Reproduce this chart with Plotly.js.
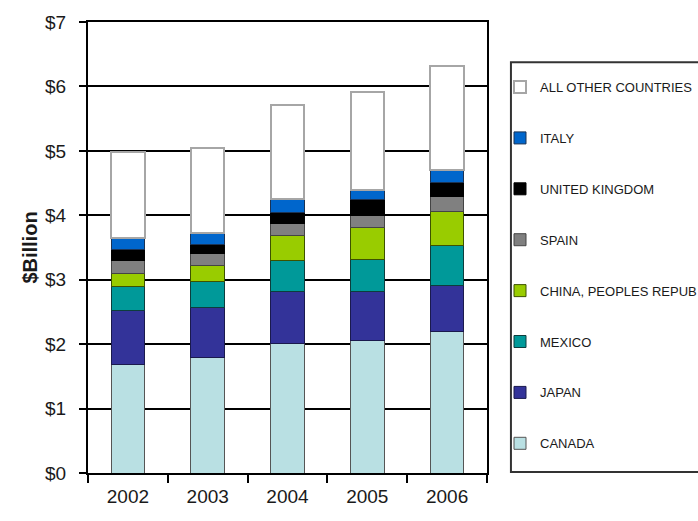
<!DOCTYPE html>
<html>
<head>
<meta charset="utf-8">
<script src="https://cdn.plot.ly/plotly-3.0.1.min.js"></script>
<style>html,body{margin:0;padding:0;background:#fff;}#chart{width:698px;height:521px;}</style>
</head>
<body>
<div id="chart"></div>
<script>
const years = ['2002', '2003', '2004', '2005', '2006'];
const seriesNames = ['CANADA', 'JAPAN', 'MEXICO', 'CHINA, PEOPLES REPUB', 'SPAIN', 'UNITED KINGDOM', 'ITALY', 'ALL OTHER COUNTRIES'];
const canada = [1.68, 1.80, 2.01, 2.06, 2.19];
const japan  = [0.84, 0.77, 0.80, 0.75, 0.72];
const mexico = [0.37, 0.40, 0.49, 0.51, 0.62];
const china  = [0.21, 0.25, 0.38, 0.49, 0.53];
const spain  = [0.20, 0.18, 0.20, 0.18, 0.23];
const uk     = [0.17, 0.15, 0.17, 0.25, 0.22];
const italy  = [0.18, 0.17, 0.21, 0.15, 0.19];
const other  = [1.33, 1.32, 1.45, 1.53, 1.61];
const yTicks = [0, 1, 2, 3, 4, 5, 6, 7];

const seriesValues = [canada, japan, mexico, china, spain, uk, italy, other];
const colors = ['#B9E0E3', '#333399', '#009999', '#99CC00', '#808080', '#000000', '#0066CC', '#FFFFFF'];
const lineColors = ['#555555', '#1a1a4d', '#0d3d3d', '#3d5200', '#444444', '#000000', '#1a3355', '#A6A6A6'];
const lineWidths = [1, 1, 1, 1, 1, 1, 1, 2];

const traces = seriesNames.map((name, i) => ({
  type: 'bar',
  name: name,
  x: years,
  y: seriesValues[i],
  legendgroup: 'g' + i,
  legendrank: 1000 - i * 10,
  marker: {color: colors[i], line: {color: lineColors[i], width: lineWidths[i]}},
  hoverinfo: 'x+y+name'
}));

const layout = {
  width: 698,
  height: 521,
  paper_bgcolor: '#ffffff',
  plot_bgcolor: '#ffffff',
  barmode: 'stack',
  bargap: 0.58,
  margin: {l: 88, r: 211, t: 22, b: 48, autoexpand: false},
  font: {family: 'Liberation Sans, Arial, sans-serif', color: '#1a1a1a'},
  xaxis: {
    type: 'category',
    categoryorder: 'array',
    categoryarray: years,
    tickson: 'boundaries',
    ticks: 'outside',
    ticklen: 8,
    tickwidth: 2,
    tickcolor: '#000',
    showline: true,
    mirror: true,
    linecolor: '#000',
    linewidth: 2,
    showgrid: false,
    tickfont: {size: 19, color: '#1a1a1a'},
    ticklabelstandoff: 5
  },
  yaxis: {
    range: [0, 7],
    tickmode: 'array',
    tickvals: yTicks,
    ticktext: yTicks.map(v => '$' + v),
    ticks: 'outside',
    ticklen: 7,
    tickwidth: 2,
    tickcolor: '#000',
    showline: true,
    mirror: true,
    linecolor: '#000',
    linewidth: 2,
    showgrid: true,
    gridcolor: '#000',
    gridwidth: 2,
    zeroline: false,
    tickfont: {size: 19, color: '#1a1a1a'},
    ticklabelstandoff: 9,
    title: {text: '$Billion', font: {size: 20, weight: 'bold', color: '#1a1a1a'}, standoff: 2}
  },
  showlegend: true,
  legend: {
    x: 1.0326,
    xanchor: 'left',
    y: 0.889,
    yanchor: 'top',
    traceorder: 'grouped',
    tracegroupgap: 31,
    bgcolor: 'rgba(0,0,0,0)',
    borderwidth: 0,
    font: {size: 13, color: '#1a1a1a'}
  },
  shapes: [{
    type: 'rect', xref: 'paper', yref: 'paper',
    x0: 1.06, x1: 1.6, y0: 0.002, y1: 0.911,
    line: {color: '#333', width: 2}, fillcolor: 'rgba(0,0,0,0)', layer: 'below'
  }]
};

Plotly.newPlot('chart', traces, layout, {displayModeBar: false, staticPlot: true});
</script>
</body>
</html>
